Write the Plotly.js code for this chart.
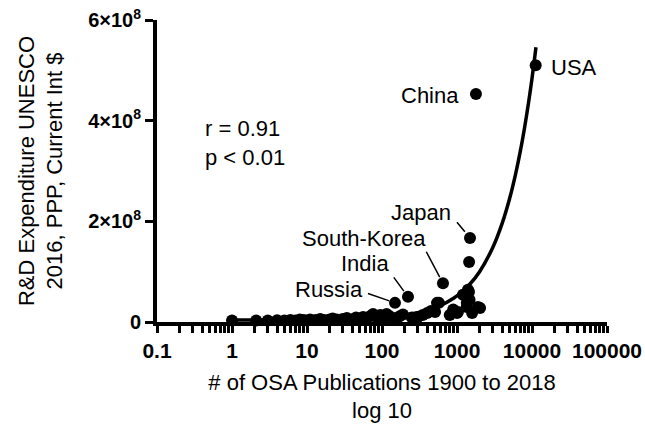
<!DOCTYPE html>
<html>
<head>
<meta charset="utf-8">
<script src="https://cdn.plot.ly/plotly-3.0.1.min.js"></script>
<style>html,body{margin:0;padding:0;background:#fff;}#chart{width:645px;height:433px;}</style>
</head>
<body>
<div id="chart"></div>
<script>
// OSA publications (x) vs R&D expenditure (y)
const publications = [1, 2.1, 3, 4, 5, 6, 7, 8, 9, 10, 11, 13, 15, 17, 20, 22, 25, 30, 34, 40, 45, 50, 56, 63, 70, 76, 85, 95, 105, 115, 125, 140, 170, 190, 250, 300, 350, 400, 450, 510, 541, 575, 800, 890, 1000, 1030, 1200, 1350, 1350, 1400, 1445, 1470, 1590, 1900, 2030,
  149, 222, 650, 1450, 1490, 1790, 11200];
const rdExpenditure = [3e6, 3e6, 3e6, 3.5e6, 3e6, 4e6, 3e6, 5e6, 4e6, 3e6, 5e6, 4e6, 6e6, 4e6, 5e6, 7e6, 5e6, 6e6, 8e6, 5e6, 9e6, 7e6, 1e7, 8e6, 1.2e7, 1.6e7, 1e7, 1.4e7, 9e6, 1.6e7, 1.2e7, 8e6, 1.1e7, 1.5e7, 9e6, 1e7, 1.4e7, 1.8e7, 2.2e7, 2e7, 3.8e7, 3.8e7, 1.4e7, 2.5e7, 1.8e7, 2e7, 5.4e7, 3e7, 3.8e7, 6.4e7, 6e7, 4.4e7, 1.8e7, 3e7, 2.8e7,
  3.8e7, 5.0e7, 7.7e7, 1.19e8, 1.67e8, 4.53e8, 5.1e8];

// fitted line, points
const fitX = [1, 10, 50, 100, 200, 300, 400, 600, 900, 1200, 1500, 2000, 3000, 4000, 5000, 6000, 7000, 8000, 9000, 10000, 11300];
const fitY = [4.0e6, 4.5e6, 6.4e6, 8.8e6, 1.36e7, 1.84e7, 2.32e7, 3.28e7, 4.72e7, 6.16e7, 7.6e7, 1.0e8, 1.48e8, 1.96e8, 2.44e8, 2.92e8, 3.4e8, 3.88e8, 4.36e8, 4.84e8, 5.46e8];

// labelled countries
const labelNames = ['USA', 'China', 'Japan', 'South-Korea', 'India', 'Russia'];
const labelX = [11200, 1790, 1490, 650, 222, 149];
const labelY = [5.1e8, 4.53e8, 1.67e8, 7.7e7, 5.0e7, 3.8e7];

// axis ticks
const xTickVals = [0.1, 1, 10, 100, 1000, 10000, 100000];
const xTickText = ['0.1', '1', '10', '100', '1000', '10000', '100000'];
const xMinorVals = [0.2, 0.3, 0.4, 0.5, 0.6, 0.7, 0.8, 0.9,
  2, 3, 4, 5, 6, 7, 8, 9,
  20, 30, 40, 50, 60, 70, 80, 90,
  200, 300, 400, 500, 600, 700, 800, 900,
  2000, 3000, 4000, 5000, 6000, 7000, 8000, 9000,
  20000, 30000, 40000, 50000, 60000, 70000, 80000, 90000];
const yTickVals = [0, 2e8, 4e8, 6e8];
const yTickText = ['0', '2×10<sup>8</sup>', '4×10<sup>8</sup>', '6×10<sup>8</sup>'];

const statsText = 'r = 0.91<br>p < 0.01';

// label placement (pixel offsets: text shift, leader tail, standoff)
const labelStyle = [
  {xs: 38, ys: -2, arrow: false},
  {xs: -46, ys: -2, arrow: false},
  {xs: -49, ys: 25, arrow: true, ax: -15, ay: -18, so: 8},
  {xs: -79, ys: 45, arrow: true, ax: -18, ay: -34, so: 7},
  {xs: -43, ys: 33, arrow: true, ax: -16, ay: -22, so: 7},
  {xs: -66, ys: 13, arrow: true, ax: -29, ay: -10, so: 6}
];

const FONT = 'Arial, "Liberation Sans", sans-serif';

const traces = [
  {
    x: fitX, y: fitY, type: 'scatter', mode: 'lines',
    line: {color: '#000', width: 3.5, shape: 'spline'},
    hoverinfo: 'skip', cliponaxis: false
  },
  {
    x: publications, y: rdExpenditure, type: 'scatter', mode: 'markers',
    marker: {color: '#000', size: 12},
    cliponaxis: false
  }
];

const annotations = [];
labelNames.forEach((name, i) => {
  const s = labelStyle[i];
  annotations.push({
    x: Math.log10(labelX[i]), y: labelY[i], xref: 'x', yref: 'y',
    text: name, showarrow: false, xshift: s.xs, yshift: s.ys,
    font: {family: FONT, size: 22, color: '#000'}
  });
  if (s.arrow) {
    annotations.push({
      x: Math.log10(labelX[i]), y: labelY[i], xref: 'x', yref: 'y',
      text: ' ', showarrow: true, arrowhead: 0, arrowwidth: 1.5, arrowcolor: '#000',
      ax: s.ax, ay: s.ay, standoff: s.so, font: {size: 2}
    });
  }
});
annotations.push({
  x: 0.102, y: 0.592, xref: 'paper', yref: 'paper', xanchor: 'left', yanchor: 'middle',
  align: 'left', text: statsText, showarrow: false,
  font: {family: FONT, size: 22, color: '#000'}
});

// major ticks carry labels, minor ticks are unlabeled
const allXTickVals = xTickVals.concat(xMinorVals);
const allXTickText = xTickText.map(t => '<b>' + t + '</b>').concat(xMinorVals.map(() => ''));

const layout = {
  width: 645, height: 433,
  margin: {l: 157, r: 38, t: 20, b: 111},
  paper_bgcolor: '#fff', plot_bgcolor: '#fff',
  showlegend: false,
  font: {family: FONT, color: '#000'},
  xaxis: {
    type: 'log', range: [-1, 5],
    showgrid: false, zeroline: false,
    showline: true, linecolor: '#000', linewidth: 4,
    ticks: 'outside', ticklen: 7, tickwidth: 3, tickcolor: '#000',
    tickmode: 'array', tickvals: allXTickVals, ticktext: allXTickText,
    tickfont: {family: FONT, size: 21, color: '#000'},
    title: {text: '# of OSA Publications 1900 to 2018<br>log 10', font: {family: FONT, size: 22, color: '#000'}, standoff: 14},
    automargin: false
  },
  yaxis: {
    range: [0, 6e8],
    showgrid: false, zeroline: false,
    showline: true, linecolor: '#000', linewidth: 4,
    ticks: 'outside', ticklen: 8, tickwidth: 3, tickcolor: '#000',
    tickmode: 'array', tickvals: yTickVals, ticktext: yTickText.map(t => '<b>' + t + '</b>'),
    tickfont: {family: FONT, size: 20, color: '#000'},
    title: {text: 'R&D Expenditure UNESCO<br>2016, PPP, Current Int $', font: {family: FONT, size: 22, color: '#000'}, standoff: 20},
    automargin: false
  },
  annotations: annotations
};

Plotly.newPlot('chart', traces, layout, {displayModeBar: false});
</script>
</body>
</html>
